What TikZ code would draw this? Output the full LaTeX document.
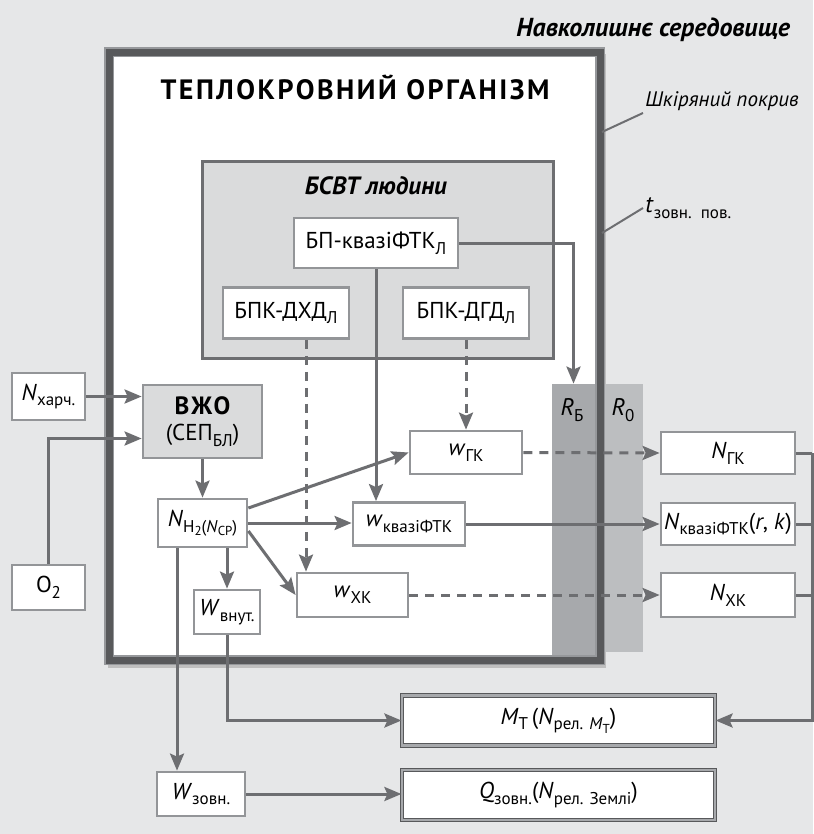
\documentclass[tikz,border=0pt]{standalone}
\usepackage{fontspec}
\setmainfont{PT Sans}
\usetikzlibrary{arrows.meta,calc,positioning,shadows}
\definecolor{bgcol}{RGB}{230,231,232}
\definecolor{linecol}{RGB}{109,110,113}
\definecolor{boxcol}{RGB}{147,149,152}
\definecolor{framecol}{RGB}{88,89,91}
\definecolor{edgecol}{RGB}{150,152,155}
\definecolor{fillcol}{RGB}{218,219,220}
\definecolor{rbcol}{RGB}{167,169,172}
\definecolor{rocol}{RGB}{188,190,192}
\newcommand\sbs[1]{\raisebox{-0.5ex}{\fontsize{8.5}{9}\selectfont #1}}
\newcommand\ssbs[1]{\raisebox{-0.4ex}{\fontsize{6.5}{7}\selectfont #1}}

\begin{document}
\begin{tikzpicture}[x=0.5pt,y=-0.5pt,
  blk/.style={draw=boxcol, line width=1.4pt, fill=white, inner sep=1pt, font=\fontsize{11.5}{13}\selectfont},
  resbox/.style={draw=framecol, line width=0.6pt, double=rbcol, double distance=1.2pt, fill=white, inner sep=1pt,
    minimum width=156.5pt, minimum height=25pt, font=\fontsize{11.5}{13}\selectfont,
    drop shadow={shadow xshift=0.8pt, shadow yshift=-0.8pt, fill=black!70, opacity=1}},
  grpbox/.style={draw=linecol, line width=1.5pt, fill=fillcol, inner sep=0pt,
    drop shadow={shadow xshift=0.8pt, shadow yshift=-0.8pt, fill=black!60, opacity=1}},
  orgframe/.style={draw=framecol, line width=4pt, double=white, fill=white, inner sep=0pt},
  arr/.style={draw=linecol, line width=1.5pt, -{Stealth[length=8.5pt,width=7pt,inset=1.5pt]}},
  ln/.style={draw=linecol, line width=1.5pt},
  dsh/.style={dash pattern=on 4.5pt off 3.5pt},
]
\useasboundingbox (0,0) rectangle (813,834);
\fill[bgcol] (0,0) rectangle (813,834);

\node[anchor=east, font=\fontsize{13}{15}\bfseries\itshape] (env) at (797,30) {Навколишнє середовище};
\fill[black!25] (108,54) rectangle (606,668);
\node[draw=edgecol, line width=5pt, fill=white, minimum width=245.5pt, minimum height=304pt, inner sep=0pt] (org) at (354.5,356) {};
\node[draw=framecol, line width=3.5pt, minimum width=245.5pt, minimum height=304pt, inner sep=0pt] (orgin) at (355,356.5) {};
\node[font=\fontsize{14}{16}\bfseries\addfontfeatures{LetterSpace=9}] (orgt) at (355,87) {ТЕПЛОКРОВНИЙ ОРГАНІЗМ};
\node[fill=rbcol, minimum width=21.5pt, minimum height=135.5pt, inner sep=0pt] (rb) at (573.5,519.5) {};
\node[fill=rocol, minimum width=19pt, minimum height=134pt, inner sep=0pt] (ro) at (624,518) {};
\node[font=\fontsize{12}{13}\selectfont] (rbl) at (572,410) {\textit{R}\sbs{Б}};
\node[font=\fontsize{12}{13}\selectfont] (rol) at (623,410) {\textit{R}\sbs{0}};

\node[anchor=south west, font=\fontsize{10.5}{12}\itshape, inner sep=1pt] (skin) at (643,113) {Шкіряний покрив};
\node[anchor=west, font=\fontsize{12}{13}\selectfont, inner sep=1pt] (tlab) at (643,208) {\textit{t}\sbs{зовн.\ \ пов.}};
\coordinate (skinpt) at (602,132);
\coordinate (tpt) at (602,233);
\draw[ln, line width=1pt] (skinpt) -- (skin.south west);
\draw[ln, line width=1pt] (tpt) -- (tlab.west);

\node[grpbox, minimum width=175.5pt, minimum height=98pt] (bsvt) at (377.5,260) {};
\node[font=\fontsize{12.5}{14}\bfseries\itshape] (bsvtt) at (376,186) {БСВТ людини};
\node[blk, minimum width=82pt, minimum height=25pt] (bp) at (376,243) {БП-квазіФТК\sbs{Л}};
\node[blk, minimum width=63pt, minimum height=25.5pt] (dxd) at (286,313) {БПК-ДХД\sbs{Л}};
\node[blk, minimum width=63pt, minimum height=25.5pt] (dgd) at (466,313) {БПК-ДГД\sbs{Л}};

\node[blk, fill=fillcol, minimum width=59.5pt, minimum height=36.5pt, align=center] (vzho) at (202.5,421.5) {{\fontsize{12.5}{14}\bfseries\addfontfeatures{LetterSpace=8}ВЖО}\\(СЕП\sbs{БЛ})};
\node[blk, minimum width=36.5pt, minimum height=23.5pt] (nharch) at (48.5,396.5) {\textit{N}\sbs{харч.}};
\node[blk, minimum width=36.5pt, minimum height=22.5pt] (o2) at (48.5,587.5) {O\sbs{2}};
\node[blk, minimum width=44.5pt, minimum height=24pt] (nh2) at (202.5,523) {\textit{N}\sbs{H\ssbs{2}(\textit{N}\ssbs{СР})}};
\node[blk, minimum width=56pt, minimum height=21.5pt] (wgk) at (466,452.5) {\textit{w}\sbs{ГК}};
\node[blk, minimum width=56pt, minimum height=21.5pt] (wkv) at (409,524) {\textit{w}\sbs{квазіФТК}};
\node[blk, minimum width=55.5pt, minimum height=22pt] (wxk) at (352.5,595) {\textit{w}\sbs{ХК}};
\node[blk, minimum width=33pt, minimum height=22pt] (wvnut) at (227,612) {\textit{W}\sbs{внут.}};
\node[blk, minimum width=44pt, minimum height=22pt] (wzovn) at (201,794) {\textit{W}\sbs{зовн.}};
\node[blk, minimum width=67pt, minimum height=21pt] (ngk) at (728,453) {\textit{N}\sbs{ГК}};
\node[blk, minimum width=67pt, minimum height=21pt] (nkv) at (728,524) {\textit{N}\sbs{квазіФТК}(\textit{r}, \textit{k})};
\node[blk, minimum width=67pt, minimum height=22pt] (nxk) at (728,595) {\textit{N}\sbs{ХК}};
\node[resbox] (mt) at (558.5,720.5) {\textit{M}\sbs{Т}\,(\textit{N}\sbs{рел. \textit{M}\ssbs{Т}})};
\node[resbox] (q) at (558.5,795) {\textit{Q}\sbs{зовн.}(\textit{N}\sbs{рел. Землі})};

\coordinate (o2in) at ([yshift=-8.5pt]vzho.west);
\coordinate (wzin) at ([xshift=-12pt]wzovn.north);
\coordinate (dxdout) at ([xshift=10pt]dxd.south);
\coordinate (bus) at ([xshift=8pt]ngk.east);

\draw[arr] (nharch.east) -- (nharch.east -| vzho.west);
\draw[arr] (o2.north) |- (o2in);
\draw[arr] (vzho.south) -- (nh2.north);
\draw[arr] ([yshift=7.5pt]nh2.east) -- (wgk.west);
\draw[arr] (nh2.east) -- (nh2.east -| wkv.west);
\draw[arr] ([yshift=-4pt]nh2.east) -- (wxk.west);
\draw[arr] (nh2.south -| wvnut.north) -- (wvnut.north);
\draw[arr] (nh2.south -| wzin) -- (wzin);
\draw[arr] (wvnut.south) |- (mt.west);
\draw[arr] (wzovn.east) -- (wzovn.east -| q.west);
\draw[arr] (bp.east) -| (rb.north);
\draw[arr] (bp.south) -- (bp.south |- wkv.north);
\draw[arr, dsh] (dxdout) -- (dxdout |- wxk.north);
\draw[arr, dsh] (dgd.south) -- (wgk.north);
\draw[arr, dsh] (wgk.east) -- (ngk.west);
\draw[arr] (wkv.east) -- (nkv.west);
\draw[arr, dsh] (wxk.east) -- (nxk.west);
\draw[ln] (ngk.east) -- (bus);
\draw[ln] (nkv.east) -- (nkv.east -| bus);
\draw[ln] (nxk.east) -- (nxk.east -| bus);
\draw[arr] (bus) |- (mt.east);
\end{tikzpicture}
\end{document}
